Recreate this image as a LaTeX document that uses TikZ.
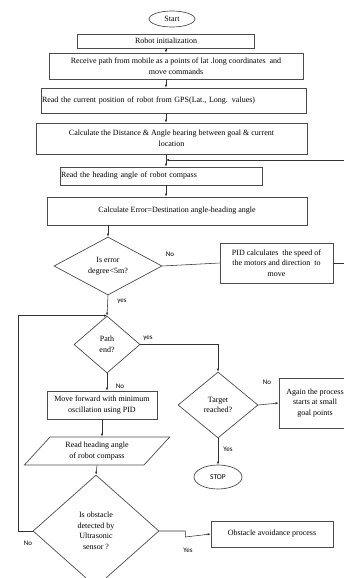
\documentclass[tikz,border=0pt]{standalone}
\usepackage{fontspec}
\setmainfont{Liberation Serif}
\newfontfamily\labelfont{Carlito}
\usetikzlibrary{shapes.geometric,arrows.meta,calc}

\tikzset{
  base/.style={draw=black!70, line width=0.7pt, font=\fontsize{8}{10.5}\selectfont, inner sep=1pt},
  stepbox/.style={base, rectangle, align=center},
  leftbox/.style={base, rectangle, align=left},
  decision/.style={base, diamond, align=center, inner sep=0pt},
  terminal/.style={base, ellipse, inner sep=0pt},
  iobox/.style={base, trapezium, trapezium left angle=48, trapezium right angle=132,
    trapezium stretches=true, align=center},
  flow/.style={draw=black!80, line width=0.55pt, -{Latex[length=3pt,width=2.4pt]}},
  link/.style={draw=black!80, line width=0.55pt},
  lbl/.style={font=\labelfont\fontsize{7}{8}\selectfont, inner sep=1pt},
}

\begin{document}
\begin{tikzpicture}[x=1pt,y=-1pt]
\useasboundingbox (0,0) rectangle (344,578);

% main column
\node[terminal, minimum width=46pt, minimum height=16pt] (start) at (172,19) {Start};
\node[stepbox, minimum width=177pt, minimum height=14pt] (init) at (166,41) {Robot initialization};
\node[stepbox, minimum width=254pt, minimum height=26pt] (recv) at (176,66)
  {Receive path from mobile as a points of lat .long coordinates~ and\\move commands};
\node[leftbox, text width=263pt, minimum height=25pt] (gps) at (173.5,100.5)
  {Read the current position of robot from GPS(Lat., Long. values)};
\node[stepbox, minimum width=271pt, minimum height=31pt] (dist) at (171.5,138.5)
  {Calculate the Distance \& Angle bearing between goal \& current\\location};
\node[leftbox, text width=200pt, minimum height=18pt] (head) at (161,176)
  {Read the heading angle of robot compass};
\node[stepbox, minimum width=260pt, minimum height=28pt] (err) at (177,211)
  {Calculate Error=Destination angle-heading angle};

% decisions and side boxes
\node[decision, minimum width=108pt, minimum height=58pt] (errok) at (108,266) {Is error\\degree<5m?};
\node[stepbox, minimum width=113pt, minimum height=40pt] (pid) at (276.5,263)
  {PID calculates~ the speed of\\the motors and direction~ to\\move};
\node[decision, minimum width=66pt, minimum height=57pt] (pathend) at (107,344.5) {Path\\end?};
\node[decision, minimum width=80pt, minimum height=66pt] (target) at (218,405) {Target\\reached?};
\node[stepbox, minimum width=72pt, minimum height=50pt] (again) at (315,403)
  {Again the process\\starts at small\\goal points};
\node[terminal, minimum width=48pt, minimum height=24pt, font=\labelfont\fontsize{7.5}{9}\selectfont] (stop) at (218,477) {STOP};
\node[stepbox, minimum width=110pt, minimum height=28pt] (move) at (102,405)
  {Move forward with minimum\\oscillation using PID};
\node[iobox, minimum width=146pt, minimum height=28pt] (rdhd) at (97,451)
  {Read heading angle\\of robot compass};
\node[decision, minimum width=126pt, minimum height=112pt] (obst) at (96,531)
  {Is obstacle\\detected by\\Ultrasonic\\sensor ?};
\node[stepbox, minimum width=122pt, minimum height=26pt] (avoid) at (272,534) {Obstacle avoidance process};

\coordinate (fb) at (init.south |- 0,160);

% connectors
\draw[flow] (init.south) -- (init.south |- recv.north);
\draw[flow] (init.south |- recv.south) -- (init.south |- gps.north);
\draw[flow] (init.south |- gps.south) -- (init.south |- dist.north);
\draw[flow] (init.south |- dist.south) -- (init.south |- head.north);
\draw[flow] (init.south |- head.south) -- (init.south |- err.north);
\draw[flow] (errok.north |- err.south) -- (errok.north);
\draw[link] (errok.east) -- (pid.west);
\draw[flow] (pid.east) -- ++(22,0) |- (fb);
\draw[flow] (errok.south) -- (pathend.north);
\draw[flow] (pathend.east) -| (target.north);
\draw[flow] (pathend.south) -- (pathend.south |- move.north);
\draw[flow] (target.east) -- (again.west);
\draw[flow] (target.south) -- (stop.north);
\draw[flow] (move.south) -- (move.south |- rdhd.north);
\draw[flow] (rdhd.south) -- (obst.north);
\draw[flow] (obst.east) -- ++(26,0) -- ++(0,6) -- (avoid.west);
\draw[flow] (obst.west) -- ++(-14,0) |- (pathend.north);

% labels
\node[lbl] (lno1) at (170,254) {No};
\node[lbl] (lyes1) at (122,301) {yes};
\node[lbl] (lyes2) at (148,338) {yes};
\node[lbl] (lno2) at (120,386) {No};
\node[lbl] (lno3) at (267,382) {No};
\node[lbl] (lyes3) at (228,449) {Yes};
\node[lbl] (lno4) at (28,543) {No};
\node[lbl] (lyes4) at (188,550) {Yes};
\end{tikzpicture}
\end{document}
